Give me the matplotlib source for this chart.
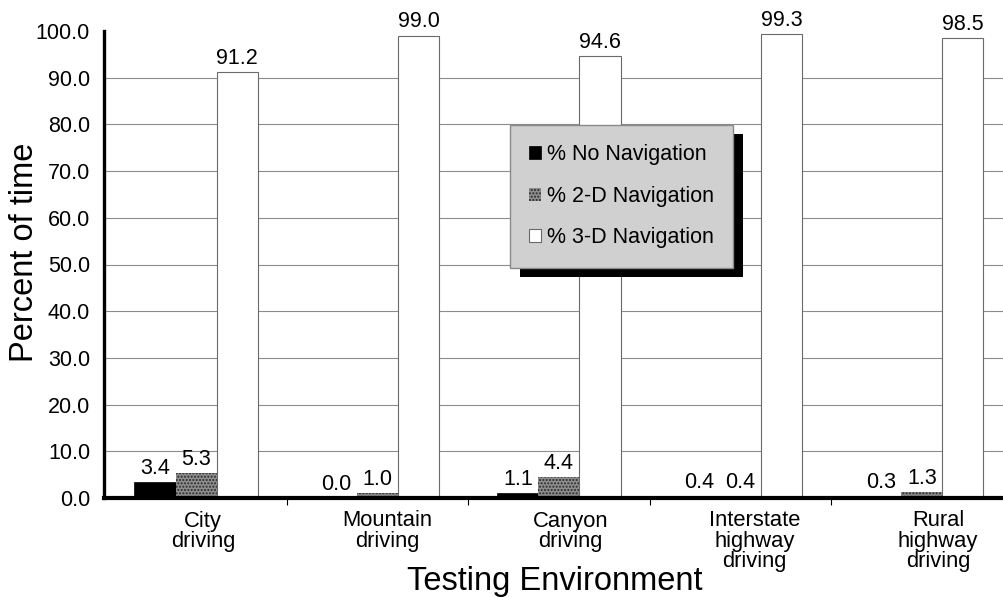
import numpy as np
import matplotlib
matplotlib.use("Agg")
import matplotlib.pyplot as plt
from matplotlib.patches import Rectangle

plt.rcParams["font.family"] = ["Liberation Sans", "DejaVu Sans"]

# data
categories = ["City\ndriving", "Mountain\ndriving", "Canyon\ndriving",
              "Interstate\nhighway\ndriving", "Rural\nhighway\ndriving"]
no_nav = [3.4, 0.0, 1.1, 0.4, 0.3]
nav_2d = [5.3, 1.0, 4.4, 0.4, 1.3]
nav_3d = [91.2, 99.0, 94.6, 99.3, 98.5]
series_names = ["% No Navigation", "% 2-D Navigation", "% 3-D Navigation"]
y_ticks = np.arange(0, 101, 10)

fig = plt.figure(figsize=(10.04, 5.97), dpi=100)
ax = fig.add_axes([104 / 1004, 1 - 498 / 597, 1 - 104 / 1004, 467 / 597])

x = np.arange(len(categories))
w = 0.226
styles = [
    dict(color="black", edgecolor="black", linewidth=0.5),
    dict(color="#8e8e8e", edgecolor="#2a2a2a", hatch=".....", linewidth=0.0),
    dict(color="white", edgecolor="#6a6a6a", linewidth=0.8),
]
for k, (vals, name, st) in enumerate(zip([no_nav, nav_2d, nav_3d], series_names, styles)):
    bars = ax.bar(x + (k - 1) * w, vals, w, label=name, zorder=2, **st)
    for b, v in zip(bars, vals):
        ax.annotate(f"{v:.1f}", (b.get_x() + b.get_width() / 2, v),
                    xytext=(0, 6), textcoords="offset points",
                    ha="center", va="baseline", fontsize=15.5, zorder=3)

ax.set_xlim(-0.507, 4.452)
ax.set_ylim(0, 100)
ax.set_yticks(y_ticks)
ax.set_yticklabels([f"{t:.1f}" for t in y_ticks])
ax.tick_params(axis="y", length=0, pad=10, labelsize=15.5)

# category labels slightly right of group centres, minor ticks at group edges
ax.set_xticks(x * 1.012 + 0.04)
ax.set_xticklabels(categories, fontsize=15.8, linespacing=0.95)
ax.tick_params(axis="x", which="major", length=0, pad=9)
ax.set_xticks(x[:-1] + 0.5, minor=True)
ax.tick_params(axis="x", which="minor", length=5, width=0.8, direction="out")

ax.grid(axis="y", color="#8c8c8c", linewidth=0.8, zorder=0)
ax.set_axisbelow(True)
ax.get_ygridlines()[-1].set_visible(False)

for s in ["top", "right"]:
    ax.spines[s].set_visible(False)
ax.spines["left"].set_linewidth(2.4)
ax.spines["bottom"].set_linewidth(3.0)

fig.text(25 / 1004, 1 - 252 / 597, "Percent of time", rotation=90,
         ha="center", va="center", fontsize=23.5)
fig.text(555 / 1004, 1 - 590 / 597, "Testing Environment",
         ha="center", va="baseline", fontsize=23.5)

leg = ax.legend(loc="upper left", bbox_to_anchor=(510 / 1004, 1 - 125 / 597),
                bbox_transform=fig.transFigure, borderaxespad=0,
                fontsize=15.5, frameon=True, fancybox=False, framealpha=1,
                facecolor="#d0d0d0", edgecolor="#8a8a8a",
                handlelength=0.55, handleheight=0.55, handletextpad=0.25,
                labelspacing=0.95, borderpad=0.9)
leg.set_zorder(6)

# black drop shadow behind the legend box
fig.canvas.draw()
bb = leg.get_window_extent(fig.canvas.get_renderer())
ax.add_patch(Rectangle((bb.x0 + 10, bb.y0 - 9), bb.width, bb.height,
                       transform=None, facecolor="black", edgecolor="none",
                       zorder=5.5, clip_on=False))

fig.savefig("out.png", dpi=100)
